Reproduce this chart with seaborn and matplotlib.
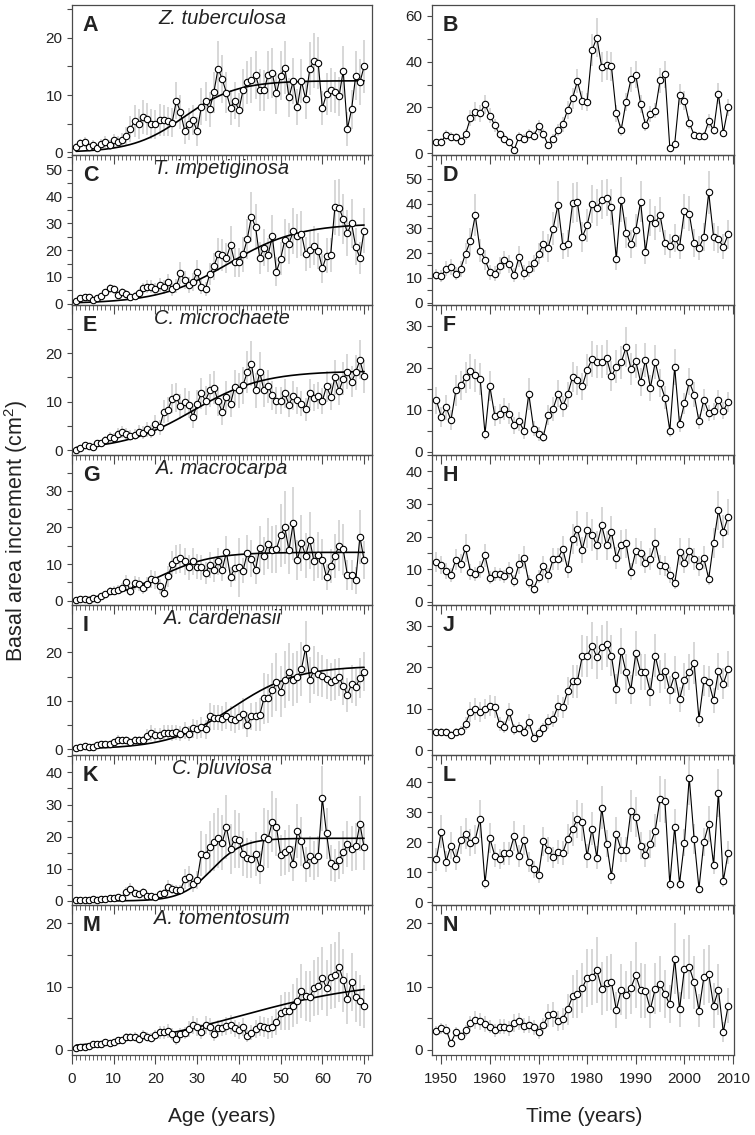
import numpy as np
import matplotlib
matplotlib.use("Agg")
import matplotlib.pyplot as plt
from matplotlib.ticker import MultipleLocator
import seaborn as sns

ages = np.arange(1, 71)
years = np.arange(1949, 2010)

letters_left = ["A", "C", "E", "G", "I", "K", "M"]
letters_right = ["B", "D", "F", "H", "J", "L", "N"]
species = ["Z. tuberculosa", "T. impetiginosa", "C. microchaete", "A. macrocarpa",
           "A. cardenasii", "C. pluviosa", "A. tomentosum"]

# ---- basal area increment by age (left column) ----
bai_age_A = [1.0, 1.6, 1.8, 1.0, 1.3, 0.8, 1.4, 1.8, 1.3, 2.1,
             1.9, 2.2, 2.8, 4.1, 5.5, 4.9, 6.2, 5.9, 4.9, 4.9,
             5.6, 5.6, 5.4, 5.2, 9.0, 7.0, 3.8, 5.0, 5.6, 3.7,
             8.0, 8.9, 7.5, 10.5, 14.6, 12.8, 10.4, 7.8, 9.0, 7.4,
             10.9, 12.2, 12.7, 13.5, 10.9, 10.8, 13.5, 13.8, 10.3, 13.4,
             14.8, 9.6, 12.4, 7.9, 12.4, 9.3, 14.6, 16.0, 15.6, 7.7,
             10.2, 10.9, 10.5, 9.8, 14.2, 4.1, 7.5, 13.4, 12.2, 15.0]
bai_age_C = [1.1, 2.1, 2.4, 2.5, 1.4, 2.0, 3.0, 4.2, 5.7, 5.3,
             3.4, 4.3, 3.7, 2.6, 3.0, 4.0, 5.7, 6.3, 6.3, 5.5,
             6.9, 6.4, 8.2, 5.3, 6.5, 11.5, 8.7, 6.9, 8.1, 12.0,
             6.3, 5.5, 11.0, 14.0, 18.4, 18.3, 17.0, 22.0, 15.4, 15.4,
             18.4, 24.2, 32.5, 28.7, 17.0, 21.0, 18.3, 25.2, 12.0, 16.8,
             23.8, 22.4, 27.0, 25.3, 26.2, 18.5, 20.2, 21.7, 19.8, 13.2,
             18.0, 18.3, 36.0, 35.9, 31.7, 26.5, 30.0, 21.3, 17.1, 27.3]
bai_age_E = [0.1, 0.5, 1.0, 0.8, 0.7, 1.5, 1.4, 2.1, 2.7, 2.6,
             3.4, 3.7, 3.4, 3.0, 3.2, 3.8, 3.6, 4.3, 3.8, 5.4,
             4.7, 7.9, 8.3, 10.6, 10.9, 9.0, 9.9, 9.4, 6.8, 9.6,
             11.7, 10.2, 12.3, 12.9, 10.1, 7.8, 11.0, 9.6, 13.0, 12.3,
             13.4, 16.1, 17.8, 12.3, 16.1, 12.3, 13.2, 11.3, 10.2, 10.2,
             11.7, 9.4, 11.2, 10.3, 9.6, 8.4, 11.7, 10.8, 11.2, 10.1,
             13.2, 11.0, 15.0, 12.2, 14.7, 16.2, 14.1, 16.0, 18.6, 15.2]
bai_age_G = [0.2, 0.4, 0.4, 0.3, 0.8, 0.5, 1.3, 1.8, 2.5, 2.7,
             3.0, 3.4, 5.0, 2.7, 4.8, 4.5, 3.4, 4.5, 5.9, 5.7,
             3.9, 2.2, 6.6, 10.0, 11.2, 11.6, 10.7, 9.1, 10.7, 9.3,
             9.1, 7.5, 9.8, 8.5, 10.7, 8.5, 13.2, 6.5, 8.8, 9.1,
             8.2, 13.0, 11.5, 8.5, 14.4, 12.1, 15.6, 13.9, 14.1, 17.9,
             20.0, 13.8, 21.1, 11.1, 15.7, 12.3, 16.5, 10.7, 12.5, 11.2,
             6.4, 9.5, 12.2, 15.0, 14.0, 7.0, 7.0, 5.5, 17.5, 11.0]
bai_age_I = [0.3, 0.5, 0.6, 0.5, 0.5, 0.8, 1.1, 1.1, 1.0, 1.4,
             2.0, 1.8, 1.9, 1.4, 1.9, 1.8, 1.8, 2.8, 3.3, 2.9,
             3.0, 3.4, 3.4, 3.3, 3.5, 3.2, 3.9, 3.2, 4.3, 4.1,
             4.5, 4.1, 6.8, 6.5, 6.5, 6.3, 6.9, 6.3, 6.0, 6.6,
             7.3, 5.1, 6.8, 6.8, 7.1, 10.5, 10.5, 12.2, 13.8, 11.9,
             14.4, 15.9, 14.4, 14.9, 16.6, 21.0, 14.3, 16.4, 15.5, 15.1,
             14.5, 13.9, 14.4, 14.9, 13.0, 11.2, 13.5, 12.8, 14.7, 16.0]
bai_age_K = [0.2, 0.3, 0.4, 0.4, 0.6, 0.4, 0.6, 0.6, 1.0, 0.8,
             1.1, 0.9, 2.9, 3.8, 2.4, 2.1, 2.8, 1.4, 1.7, 1.3,
             2.3, 2.4, 4.5, 3.7, 3.4, 3.4, 6.8, 7.6, 5.3, 6.6,
             14.7, 14.3, 16.8, 18.4, 19.6, 18.1, 23.1, 16.2, 19.4, 18.9,
             14.7, 13.4, 13.0, 14.7, 10.4, 19.8, 19.4, 24.7, 23.0, 14.2,
             15.2, 16.3, 11.6, 21.7, 18.6, 11.3, 13.9, 12.6, 13.9, 31.9,
             21.0, 11.8, 11.0, 12.8, 15.1, 17.7, 16.2, 17.0, 24.0, 16.7]
bai_age_M = [0.3, 0.5, 0.5, 0.7, 0.9, 0.9, 0.9, 1.3, 1.1, 1.2,
             1.6, 1.6, 2.0, 2.0, 2.1, 1.7, 2.4, 2.1, 1.9, 2.3,
             2.8, 2.8, 3.0, 2.5, 1.7, 2.5, 2.7, 3.3, 3.9, 3.6,
             2.9, 3.9, 3.7, 2.5, 3.4, 3.5, 3.8, 4.0, 3.4, 3.1,
             3.6, 2.2, 2.7, 3.3, 3.8, 3.6, 3.4, 3.6, 4.4, 5.9,
             6.1, 6.1, 7.0, 7.7, 9.3, 8.5, 8.4, 9.8, 10.1, 11.3,
             9.8, 11.6, 11.8, 13.1, 11.0, 8.1, 10.7, 8.4, 7.8, 6.9]

err_age_A = [0.6, 0.8, 0.9, 0.7, 0.8, 0.6, 0.9, 1.0, 0.8, 1.1, 1.0, 1.2,
             1.6, 2.2, 2.8, 2.6, 3.0, 2.8, 2.6, 2.5, 2.8, 2.7, 2.6, 2.5,
             3.2, 3.0, 2.4, 2.8, 2.6, 2.5, 3.2, 3.4, 3.0, 3.6,
             4.8, 4.2, 3.6, 3.0, 3.2, 3.0, 3.6, 3.8, 4.0, 4.2,
             3.6, 3.5, 4.2, 4.4, 3.6, 4.2, 4.6, 3.4, 4.0, 3.2,
             3.8, 3.4, 4.6, 4.8, 4.6, 3.0, 3.6, 3.8, 3.6, 3.4,
             4.4, 3.0, 3.4, 4.2, 4.0, 4.6]
err_age_C = [0.6, 0.8, 0.9, 0.9, 0.7, 0.8, 1.0, 1.4, 1.8, 1.8, 1.4, 1.6,
             1.4, 1.2, 1.2, 1.6, 2.0, 2.4, 2.4, 2.2, 2.6, 2.6, 3.0, 2.4,
             2.6, 4.0, 3.4, 3.0, 3.4, 4.4, 2.8, 2.6, 4.2, 5.0,
             6.0, 6.0, 5.6, 7.0, 5.4, 5.6, 6.4, 7.6, 9.4, 8.6,
             6.0, 7.0, 6.4, 8.0, 5.4, 6.2, 8.0, 7.6, 8.6, 8.2,
             8.4, 6.4, 6.8, 7.2, 6.8, 5.4, 6.4, 6.4, 10.4, 10.6,
             9.4, 8.6, 9.2, 7.0, 6.0, 8.4]
err_age_E = [0.3, 0.4, 0.5, 0.5, 0.5, 0.6, 0.6, 0.8, 1.0, 1.0, 1.2, 1.2,
             1.2, 1.1, 1.2, 1.3, 1.3, 1.5, 1.4, 1.8, 1.6, 2.4, 2.6, 3.0,
             3.0, 2.6, 2.8, 2.8, 2.2, 2.8, 3.2, 3.0, 3.4, 3.4,
             3.0, 2.6, 3.2, 2.8, 3.6, 3.6, 3.8, 4.4, 4.6, 3.6,
             4.2, 3.4, 3.4, 3.0, 2.8, 2.8, 3.0, 2.6, 3.0, 2.8,
             2.6, 2.4, 3.0, 2.8, 2.8, 2.6, 3.2, 2.8, 3.6, 3.0,
             3.4, 3.6, 3.2, 3.6, 4.0, 3.4]
err_age_G = [0.2, 0.3, 0.3, 0.3, 0.5, 0.4, 0.7, 0.9, 1.1, 1.2, 1.3, 1.4,
             2.0, 1.4, 2.0, 2.0, 1.6, 2.0, 2.4, 2.4, 2.0, 1.6, 2.8, 3.6,
             4.0, 4.0, 3.8, 3.4, 3.6, 3.4, 3.4, 3.0, 3.6, 3.4,
             3.6, 3.2, 4.4, 2.8, 3.4, 8.0, 3.4, 5.0, 5.0, 4.0,
             6.0, 5.2, 7.0, 6.4, 6.6, 8.6, 10.0, 6.6, 10.0, 5.6,
             7.6, 6.2, 7.8, 5.4, 6.2, 5.6, 3.6, 4.6, 6.0, 7.0,
             7.0, 4.0, 4.0, 3.6, 7.4, 5.2]
err_age_I = [0.2, 0.3, 0.3, 0.3, 0.3, 0.4, 0.5, 0.5, 0.5, 0.6, 0.9, 0.8,
             0.9, 0.8, 0.9, 0.9, 0.9, 1.4, 1.6, 1.4, 1.4, 1.6, 1.6, 1.6,
             1.6, 1.6, 1.8, 1.6, 2.0, 2.0, 2.2, 2.0, 2.8, 2.6,
             2.6, 2.6, 2.8, 2.6, 2.6, 2.6, 3.2, 2.6, 2.8, 3.0,
             3.4, 5.2, 5.0, 5.6, 6.0, 5.2, 5.8, 6.0, 5.4, 5.4,
             5.6, 5.4, 4.8, 5.0, 4.6, 4.4, 4.2, 4.0, 4.2, 4.0,
             3.8, 3.6, 4.0, 3.8, 4.2, 4.0]
err_age_K = [0.1, 0.2, 0.2, 0.2, 0.3, 0.2, 0.3, 0.3, 0.5, 0.4, 0.5, 0.5,
             1.4, 1.8, 1.2, 1.0, 1.2, 0.7, 0.8, 0.7, 1.0, 1.2, 2.0, 1.6,
             1.6, 1.6, 3.0, 3.2, 2.4, 2.8, 7.0, 6.6, 8.0, 9.0,
             9.4, 8.6, 10.0, 7.8, 9.0, 8.6, 7.0, 6.2, 6.0, 6.8,
             5.0, 9.0, 9.0, 9.6, 9.0, 6.4, 7.0, 7.4, 5.4, 8.4,
             7.6, 5.4, 6.4, 6.0, 6.4, 10.0, 8.0, 5.6, 5.2, 6.0,
             6.8, 7.2, 7.0, 7.4, 8.6, 7.2]
err_age_M = [0.1, 0.2, 0.2, 0.2, 0.3, 0.3, 0.3, 0.4, 0.4, 0.4, 0.5, 0.5,
             0.6, 0.6, 0.7, 0.6, 0.8, 0.7, 0.7, 0.8, 1.0, 1.0, 1.1, 1.0,
             0.9, 1.0, 1.0, 1.2, 1.4, 1.4, 1.2, 1.4, 1.4, 1.1,
             1.3, 1.3, 1.4, 1.5, 1.4, 1.3, 1.4, 1.0, 1.2, 1.4,
             1.6, 1.6, 1.6, 1.7, 2.0, 2.8, 3.0, 3.0, 3.4, 3.6,
             4.2, 4.0, 4.0, 4.4, 4.6, 5.0, 4.4, 5.2, 5.2, 5.6,
             5.0, 4.0, 4.6, 4.0, 4.0, 3.4]

# logistic growth fits: asymptote, inflection age, rate
fit_asym = [12.5, 30.0, 16.3, 13.2, 17.2, 19.5, 11.0]
fit_mid = [27.0, 37.5, 29.0, 21.0, 38.5, 33.5, 41.0]
fit_rate = [0.16, 0.12, 0.12, 0.16, 0.13, 0.27, 0.065]

# ---- basal area increment by calendar year (right column) ----
bai_yr_B = [5.0, 5.1, 7.9, 7.2, 6.9, 5.3, 8.3, 15.4, 18.2, 17.4,
            21.4, 16.4, 12.3, 8.2, 6.4, 5.0, 1.5, 7.3, 6.4, 8.3,
            7.6, 11.7, 8.3, 3.5, 6.4, 10.0, 12.7, 19.0, 24.0, 31.5,
            23.0, 22.3, 44.9, 50.5, 37.6, 38.4, 37.9, 17.4, 10.2, 22.3,
            32.2, 34.3, 21.5, 12.3, 17.1, 18.6, 31.8, 34.4, 2.5, 4.0,
            25.6, 23.0, 13.3, 8.0, 7.5, 7.5, 14.0, 10.0, 26.0, 9.0,
            20.0]
bai_yr_D = [11.3, 10.7, 13.7, 14.5, 11.7, 13.7, 19.8, 24.9, 35.3, 21.0,
            17.3, 12.3, 11.7, 14.9, 17.2, 15.4, 11.1, 18.5, 12.1, 13.4,
            15.8, 19.7, 23.5, 22.1, 29.8, 39.5, 22.8, 23.7, 40.1, 40.6,
            26.5, 31.2, 39.9, 38.3, 41.6, 42.4, 38.5, 17.7, 41.6, 28.2,
            23.5, 29.2, 40.8, 20.5, 34.3, 32.2, 35.5, 24.1, 22.8, 26.1,
            22.4, 36.9, 35.9, 24.0, 22.0, 26.5, 44.5, 26.5, 25.5, 22.5,
            27.5]
bai_yr_F = [12.3, 8.3, 10.6, 7.5, 14.6, 15.8, 17.7, 19.2, 18.2, 17.4,
            4.3, 15.6, 8.6, 9.0, 10.1, 9.1, 6.3, 7.2, 5.0, 13.8,
            5.5, 4.2, 3.6, 8.8, 10.2, 13.8, 10.8, 13.7, 17.8, 17.0,
            15.6, 19.5, 22.1, 21.5, 21.5, 22.4, 18.0, 20.3, 21.3, 24.9,
            19.8, 21.6, 16.6, 21.9, 15.2, 21.4, 16.4, 12.9, 5.0, 20.2,
            6.6, 11.5, 16.7, 13.6, 7.2, 12.4, 9.2, 9.6, 12.4, 9.8,
            11.9]
bai_yr_H = [12.2, 11.2, 9.5, 8.3, 12.9, 11.7, 16.5, 9.2, 8.5, 10.0,
            14.2, 7.4, 8.6, 8.4, 7.8, 9.7, 6.4, 11.6, 13.5, 6.1,
            3.9, 7.6, 11.0, 8.1, 13.0, 13.2, 16.2, 10.0, 19.2, 22.4,
            16.0, 22.0, 20.5, 17.3, 23.4, 17.3, 21.3, 13.4, 17.5, 17.9,
            9.2, 15.5, 14.8, 11.9, 13.2, 18.0, 11.3, 11.0, 8.3, 5.6,
            15.4, 11.9, 15.7, 13.0, 11.0, 13.5, 7.0, 18.0, 28.0, 21.5,
            26.0]
bai_yr_J = [4.3, 4.3, 4.3, 3.6, 4.3, 4.6, 6.4, 9.2, 9.9, 9.1,
            9.8, 10.7, 10.4, 6.3, 5.6, 9.1, 5.0, 5.4, 4.4, 6.8,
            3.0, 4.0, 5.2, 6.9, 7.5, 10.6, 10.3, 14.2, 16.6, 16.6,
            22.7, 22.6, 25.2, 22.4, 24.8, 25.6, 22.8, 14.7, 23.9, 18.8,
            14.6, 23.3, 18.8, 18.8, 14.0, 22.8, 17.7, 19.1, 14.4, 18.2,
            12.2, 17.0, 18.8, 21.0, 7.5, 16.8, 16.5, 12.0, 19.0, 16.0,
            19.5]
bai_yr_L = [14.3, 23.5, 13.5, 18.8, 14.2, 20.7, 22.8, 19.8, 20.8, 27.7,
            6.3, 21.2, 15.5, 14.3, 16.3, 16.3, 22.0, 15.3, 20.7, 13.3,
            10.9, 8.9, 20.2, 17.4, 14.9, 16.7, 16.5, 21.1, 24.3, 27.7,
            26.7, 15.2, 24.5, 14.8, 31.4, 19.5, 8.6, 22.6, 17.4, 17.4,
            30.4, 28.3, 18.8, 15.8, 19.3, 23.8, 34.3, 33.6, 5.9, 25.1,
            6.1, 19.8, 41.4, 21.0, 4.5, 20.0, 26.0, 12.5, 36.5, 7.0,
            16.5]
bai_yr_N = [3.0, 3.4, 3.2, 1.1, 2.8, 2.2, 3.1, 4.2, 4.7, 4.5,
            4.1, 3.7, 3.1, 3.7, 3.7, 3.4, 4.2, 4.5, 3.8, 4.0,
            3.6, 2.8, 3.9, 5.5, 5.6, 4.6, 4.9, 6.4, 8.5, 8.9,
            9.8, 11.4, 11.5, 12.6, 9.7, 10.5, 10.7, 6.3, 9.5, 8.7,
            9.8, 11.8, 9.4, 9.3, 6.4, 9.7, 10.4, 8.8, 7.2, 14.4,
            6.4, 12.8, 13.1, 10.7, 6.2, 11.5, 12.0, 7.0, 9.5, 2.8,
            7.0]

err_yr_B = [1.4, 1.6, 2.2, 2.0, 2.0, 1.6, 2.4, 3.6, 4.0, 3.6,
            4.2, 3.4, 2.8, 2.0, 1.8, 1.6, 1.0, 2.0, 1.8, 2.2,
            2.0, 3.0, 2.2, 1.4, 2.0, 2.6, 3.2, 4.0, 4.6, 5.4,
            4.0, 4.0, 7.0, 8.6, 6.6, 6.4, 6.4, 3.6, 2.6, 4.0,
            5.6, 5.8, 4.0, 2.6, 3.4, 3.4, 5.4, 5.8, 1.0, 1.4,
            4.6, 4.2, 2.8, 1.8, 1.6, 1.6, 3.0, 2.2, 4.6, 2.0, 3.6]
err_yr_D = [2.4, 2.4, 3.0, 3.2, 2.8, 3.2, 4.4, 5.2, 8.6, 4.6,
            4.0, 3.0, 3.0, 3.4, 3.8, 3.6, 2.8, 4.2, 3.0, 3.2,
            3.6, 4.2, 5.4, 5.6, 6.6, 9.4, 5.2, 5.4, 8.0, 8.2,
            6.0, 6.6, 7.6, 7.4, 8.0, 7.6, 7.2, 4.6, 9.0, 6.2,
            5.6, 6.6, 8.4, 4.8, 7.6, 6.8, 7.0, 5.0, 5.0, 5.6,
            5.0, 7.0, 7.0, 5.6, 5.0, 5.8, 8.6, 5.8, 5.6, 5.0, 5.8]
err_yr_F = [3.2, 2.4, 3.0, 2.4, 3.6, 3.4, 3.8, 4.2, 4.0, 3.8,
            1.6, 3.6, 2.4, 2.4, 2.6, 2.4, 2.0, 2.2, 2.0, 3.8,
            1.8, 1.6, 1.4, 2.4, 2.8, 3.2, 2.6, 3.0, 3.6, 3.4,
            3.2, 3.8, 4.2, 4.0, 4.0, 4.2, 3.6, 4.0, 4.0, 4.8,
            3.8, 4.0, 3.4, 4.0, 3.2, 4.0, 3.4, 2.8, 1.6, 4.2,
            1.8, 2.4, 3.2, 3.0, 1.8, 2.6, 2.0, 2.0, 2.4, 2.0, 2.4]
err_yr_H = [3.0, 2.8, 2.4, 2.2, 3.2, 2.8, 4.2, 2.4, 2.2, 2.6,
            3.6, 2.0, 2.2, 2.0, 2.0, 2.4, 1.8, 3.0, 3.6, 2.0,
            1.4, 2.0, 3.0, 2.2, 3.4, 3.4, 4.0, 2.6, 4.6, 5.4,
            4.0, 5.4, 5.0, 4.4, 5.6, 4.4, 5.0, 3.4, 4.4, 4.4,
            2.6, 4.0, 3.8, 3.2, 3.4, 4.6, 3.0, 3.0, 2.4, 1.8,
            4.0, 3.2, 4.0, 3.4, 3.0, 3.6, 2.0, 4.6, 6.0, 5.0, 5.6]
err_yr_J = [1.0, 1.0, 1.0, 0.9, 1.0, 1.1, 1.6, 2.4, 2.6, 2.4,
            2.4, 2.6, 2.6, 1.6, 1.4, 2.2, 1.4, 1.4, 1.2, 1.8,
            1.0, 1.2, 1.4, 1.8, 2.0, 2.6, 2.6, 3.4, 4.0, 4.0,
            5.0, 5.0, 5.6, 5.2, 5.4, 5.6, 5.0, 3.6, 5.6, 4.4,
            3.6, 5.4, 4.4, 4.4, 3.4, 5.2, 4.0, 4.4, 3.4, 4.4,
            3.0, 4.0, 4.4, 5.0, 2.0, 3.8, 3.8, 3.0, 4.4, 3.8, 4.4]
err_yr_L = [3.8, 5.4, 3.4, 4.4, 3.6, 4.8, 5.2, 4.6, 4.8, 6.4,
            2.0, 5.0, 3.8, 3.4, 3.8, 3.8, 5.0, 3.6, 5.0, 3.4,
            2.8, 2.4, 4.8, 4.2, 3.6, 4.0, 4.0, 5.0, 5.6, 6.4,
            6.2, 4.0, 5.6, 3.8, 7.2, 4.6, 2.6, 5.6, 4.2, 4.2,
            7.0, 6.6, 4.6, 4.0, 4.6, 5.6, 7.6, 7.4, 1.8, 5.8,
            1.8, 4.6, 9.0, 5.0, 1.4, 4.6, 6.0, 3.2, 8.0, 2.0, 3.8]
err_yr_N = [0.8, 0.9, 0.9, 0.4, 0.8, 0.7, 0.9, 1.2, 1.4, 1.3,
            1.2, 1.1, 1.0, 1.2, 1.2, 1.2, 1.4, 1.4, 1.2, 1.3,
            1.2, 1.0, 1.2, 1.8, 1.9, 1.6, 1.8, 2.4, 3.4, 3.8,
            4.0, 4.6, 4.4, 5.2, 4.2, 4.4, 4.4, 2.8, 4.0, 3.8,
            4.2, 5.2, 4.4, 4.2, 3.0, 4.0, 4.4, 3.8, 3.0, 5.6,
            2.8, 4.8, 5.0, 4.2, 2.6, 4.4, 4.6, 3.6, 4.0, 1.6, 2.8]

left_series = [bai_age_A, bai_age_C, bai_age_E, bai_age_G, bai_age_I, bai_age_K, bai_age_M]
left_errors = [err_age_A, err_age_C, err_age_E, err_age_G, err_age_I, err_age_K, err_age_M]
right_series = [bai_yr_B, bai_yr_D, bai_yr_F, bai_yr_H, bai_yr_J, bai_yr_L, bai_yr_N]
right_errors = [err_yr_B, err_yr_D, err_yr_F, err_yr_H, err_yr_J, err_yr_L, err_yr_N]

left_ylims = [(-0.45, 25.7), (-0.5, 55.6), (-1.0, 29.9), (-1.2, 39.8),
              (-1.2, 29.8), (-1.25, 45.4), (-0.8, 22.9)]
right_ylims = [(-0.75, 64.7), (-1.0, 59.6), (-0.8, 35.0), (-1.0, 45.0),
               (-1.2, 35.0), (-1.0, 49.0), (-0.8, 22.9)]
right_major = [20, 10, 10, 10, 10, 10, 10]

sns.set_style("ticks")
plt.rcParams["font.family"] = ["Liberation Sans", "DejaVu Sans"]
plt.rcParams["mathtext.default"] = "regular"

SPINE = "#4a4a4a"
TXT = "#222222"
ERRC = "#cdcdcd"

fig = plt.figure(figsize=(7.55, 11.35), dpi=100)
W, H = 755.0, 1135.0


def style_axis(ax, xmaj, ymaj, bottom_row):
    ax.patch.set_alpha(0)
    for sp in ax.spines.values():
        sp.set_visible(True)
        sp.set_color(SPINE)
        sp.set_linewidth(0.9)
    ax.xaxis.set_major_locator(MultipleLocator(xmaj))
    ax.xaxis.set_minor_locator(MultipleLocator(1))
    ax.yaxis.set_major_locator(MultipleLocator(ymaj))
    ax.yaxis.set_minor_locator(MultipleLocator(ymaj / 2))
    ax.tick_params(axis="x", which="major", direction="out", length=6.5, width=0.8,
                   color=SPINE, pad=6, labelsize=11, labelcolor=TXT,
                   labelbottom=bottom_row, top=False)
    ax.tick_params(axis="x", which="minor", direction="out", length=3.4, width=0.6,
                   color=SPINE, top=False)
    ax.tick_params(axis="y", which="both", direction="out", length=3.8, width=0.8,
                   color=SPINE, pad=3, labelsize=11, labelcolor=TXT, right=False)
    ax.set_xlabel("")
    ax.set_ylabel("")


def draw(ax, x, y, err):
    y = np.asarray(y)
    err = np.asarray(err)
    ax.vlines(x, y - err, y + err, color=ERRC, lw=1.1, zorder=1)
    sns.lineplot(x=x, y=y, ax=ax, color="black", lw=0.8, marker="o", markersize=4.6,
                 markerfacecolor="white", markeredgecolor="black",
                 markeredgewidth=0.8, zorder=3, estimator=None, sort=False)


for i in range(7):
    top_px = 5 + 150 * i
    bottom = 1 - (top_px + 150) / H
    height = 150 / H
    last = i == 6

    # left column (age)
    axl = fig.add_axes([72 / W, bottom, 300 / W, height])
    draw(axl, ages, left_series[i], left_errors[i])
    age_fine = np.linspace(1, 70, 300)
    curve = fit_asym[i] / (1 + np.exp(-fit_rate[i] * (age_fine - fit_mid[i])))
    sns.lineplot(x=age_fine, y=curve, ax=axl, color="black", lw=1.2, zorder=2,
                 estimator=None, sort=False)
    axl.set_xlim(0, 71.9)
    axl.set_ylim(*left_ylims[i])
    style_axis(axl, 10, 10, last)
    axl.text(0.036, 0.829, letters_left[i], transform=axl.transAxes, fontsize=15.5,
             fontweight="bold", color=TXT, ha="left", va="baseline")
    axl.text(0.5, 0.873, species[i], transform=axl.transAxes, fontsize=14.5,
             style="italic", color=TXT, ha="center", va="baseline")

    # right column (calendar year)
    axr = fig.add_axes([432 / W, bottom, 302 / W, height])
    draw(axr, years, right_series[i], right_errors[i])
    axr.set_xlim(1948.1, 2010.2)
    axr.set_ylim(*right_ylims[i])
    style_axis(axr, 10, right_major[i], last)
    axr.text(0.036, 0.829, letters_right[i], transform=axr.transAxes, fontsize=15.5,
             fontweight="bold", color=TXT, ha="left", va="baseline")

fig.text(16 / W, 1 - 531 / H, "Basal area increment (cm$^2$)", rotation=90,
         ha="center", va="center", fontsize=15.5, color=TXT)
fig.text(222 / W, 1 - 1117 / H, "Age (years)", ha="center", va="center",
         fontsize=15, color=TXT)
fig.text(584 / W, 1 - 1117 / H, "Time (years)", ha="center", va="center",
         fontsize=15, color=TXT)

fig.savefig("out.png", dpi=100, facecolor="white")
